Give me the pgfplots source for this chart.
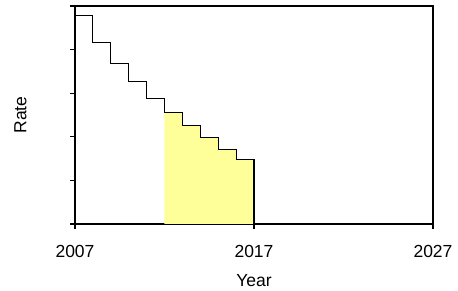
\documentclass[border=0pt]{standalone}
\usepackage{fontspec}
\setmainfont{Liberation Sans}
\usepackage{pgfplots}
\pgfplotsset{compat=1.18}
\definecolor{fillyel}{HTML}{FFFF99}
\begin{document}
\begin{tikzpicture}
\begin{axis}[
  name=ax,
  scale only axis,
  width=358bp, height=218bp,
  xmin=2007, xmax=2027, ymin=0, ymax=5,
  xtick={2007,2017,2027},
  ytick={0,1,2,3,4,5},
  yticklabels={},
  /pgf/number format/assume math mode=true,
  /pgf/number format/1000 sep={},
  xticklabel style={font=\fontsize{17.5bp}{21bp}\selectfont, yshift=-13bp},
  label style={font=\fontsize{17.5bp}{21bp}\selectfont},
  xlabel={Year}, ylabel={Rate},
  xlabel style={yshift=-10bp},
  ylabel style={yshift=33bp},
  tick align=outside,
  major tick length=5bp,
  tick style={black, line width=1.1pt},
  axis line style={black, line width=1.1pt},
  xtick pos=bottom, ytick pos=left,
  clip=false,
]
\addplot[const plot, fill=fillyel, draw=none] coordinates {
(2012,2.55) (2013,2.25) (2014,1.99) (2015,1.70) (2016,1.47) (2017,1.47)
} \closedcycle;
\addplot[const plot, black, line width=1.1pt] coordinates {
(2007,4.78) (2008,4.17) (2009,3.69) (2010,3.26) (2011,2.88) (2012,2.55) (2013,2.25) (2014,1.99) (2015,1.70) (2016,1.47) (2017,1.47) (2017,0)
};
\end{axis}
\path (ax.south west) ++(-75bp,-66bp) rectangle ++(458bp,290bp);
\end{tikzpicture}
\end{document}
